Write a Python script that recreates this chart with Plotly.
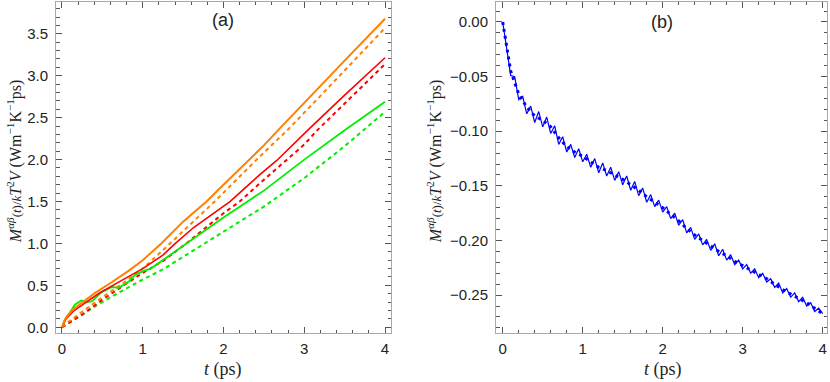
import plotly.graph_objects as go

# ---------------- Panel (a) data ----------------
t_or_s = [0, 0.04, 0.12, 0.24, 0.41, 0.62, 0.82, 1.0, 1.23, 1.5, 1.79, 2.0, 2.29, 2.5, 2.68, 3.0, 3.5, 4.0]
v_or_s = [0, 0.10, 0.20, 0.29, 0.41, 0.54, 0.67, 0.80, 1.00, 1.26, 1.50, 1.70, 1.97, 2.17, 2.355, 2.68, 3.18, 3.68]

t_or_d = [0, 0.1, 0.3, 0.5, 0.75, 1.0, 1.25, 1.34, 1.89, 2.41, 2.8, 3.2, 3.5, 4.0]
v_or_d = [0, 0.08, 0.22, 0.36, 0.52, 0.70, 0.92, 1.00, 1.50, 2.00, 2.36, 2.76, 3.06, 3.57]

t_rd_s = [0, 0.05, 0.15, 0.3, 0.45, 0.74, 1.0, 1.25, 1.38, 1.63, 2.08, 2.45, 2.66, 3.07, 3.5, 4.0]
v_rd_s = [0, 0.10, 0.20, 0.30, 0.40, 0.56, 0.70, 0.86, 0.98, 1.19, 1.50, 1.82, 1.99, 2.375, 2.77, 3.215]

t_rd_d = [0, 0.1, 0.25, 0.5, 0.75, 1.0, 1.25, 1.54, 2.0, 2.2, 2.5, 2.78, 3.0, 3.15, 3.5, 4.0]
v_rd_d = [0, 0.06, 0.15, 0.33, 0.49, 0.65, 0.79, 1.00, 1.36, 1.50, 1.76, 2.00, 2.18, 2.34, 2.67, 3.14]

t_gr_s = [0, 0.03, 0.06, 0.1, 0.16, 0.24, 0.3, 0.37, 0.49, 0.62, 0.7, 0.82, 0.9, 1.0, 1.1, 1.25, 1.54, 2.0, 2.5, 3.0, 3.5, 4.0]
v_gr_s = [0, 0.08, 0.13, 0.18, 0.27, 0.32, 0.30, 0.31, 0.42, 0.48, 0.47, 0.54, 0.62, 0.67, 0.70, 0.80, 1.00, 1.31, 1.63, 2.00, 2.35, 2.69]

t_gr_d = [0, 0.16, 0.41, 0.66, 1.0, 1.25, 1.5, 2.0, 2.5, 3.0, 3.5, 4.0]
v_gr_d = [0, 0.10, 0.25, 0.39, 0.57, 0.69, 0.84, 1.13, 1.44, 1.78, 2.16, 2.57]

# ---------------- Panel (b) data ----------------
t_b_s = [round(0.05 * i, 2) for i in range(81)]
v_b_s = [0.000, -0.024, -0.049, -0.050, -0.071, -0.068, -0.084, -0.077, -0.092, -0.082,
         -0.096, -0.087, -0.102, -0.095, -0.112, -0.105, -0.119, -0.112, -0.124, -0.116,
         -0.128, -0.121, -0.133, -0.125, -0.138, -0.129, -0.141, -0.133, -0.145, -0.137,
         -0.149, -0.141, -0.154, -0.146, -0.159, -0.152, -0.165, -0.158, -0.169, -0.163,
         -0.174, -0.169, -0.180, -0.175, -0.186, -0.181, -0.193, -0.188, -0.199, -0.194,
         -0.204, -0.199, -0.209, -0.203, -0.214, -0.208, -0.218, -0.213, -0.222, -0.218,
         -0.226, -0.222, -0.230, -0.226, -0.234, -0.230, -0.238, -0.235, -0.243, -0.239,
         -0.248, -0.244, -0.252, -0.248, -0.256, -0.252, -0.260, -0.257, -0.265, -0.262,
         -0.267]

t_b_d = [round(0.1 * i, 1) for i in range(41)]
v_b_d = [0.000, -0.045, -0.066, -0.078, -0.086, -0.090, -0.096, -0.106, -0.114, -0.119,
         -0.123, -0.128, -0.133, -0.136, -0.140, -0.144, -0.149, -0.154, -0.160, -0.165,
         -0.170, -0.176, -0.182, -0.189, -0.195, -0.200, -0.205, -0.210, -0.214, -0.219,
         -0.223, -0.227, -0.231, -0.235, -0.240, -0.245, -0.249, -0.253, -0.257, -0.262,
         -0.267]

x_ticks = [0, 1, 2, 3, 4]
ya_ticks = [0.0, 0.5, 1.0, 1.5, 2.0, 2.5, 3.0, 3.5]
yb_ticks = [0.00, -0.05, -0.10, -0.15, -0.20, -0.25]

ORANGE = "#ff8000"
RED = "#ff0000"
GREEN = "#00ee00"
BLUE = "#0000ff"
DASH = "4px,3.5px"

fig = go.Figure()

def add(t, v, color, dash, width, xa, ya):
    fig.add_trace(go.Scatter(x=t, y=v, mode="lines", xaxis=xa, yaxis=ya,
                             line=dict(color=color, width=width, dash=dash),
                             showlegend=False, hoverinfo="skip"))

add(t_gr_d, v_gr_d, GREEN, DASH, 2, "x", "y")
add(t_rd_d, v_rd_d, RED, DASH, 2, "x", "y")
add(t_or_d, v_or_d, ORANGE, DASH, 2, "x", "y")
add(t_gr_s, v_gr_s, GREEN, "solid", 1.8, "x", "y")
add(t_rd_s, v_rd_s, RED, "solid", 1.6, "x", "y")
add(t_or_s, v_or_s, ORANGE, "solid", 2, "x", "y")

add(t_b_d, v_b_d, BLUE, "3px,4px", 3, "x2", "y2")
add(t_b_s, v_b_s, BLUE, "solid", 1.2, "x2", "y2")

W, H = 830, 382
def px(x):
    return x / W
def py(y):
    return 1 - y / H

FRAME = "#a8a8a8"
TICKC = "#555555"
tickfont = dict(family="Liberation Sans, Arial, sans-serif", size=15, color="#222")

def xaxis(domain, anchor, rng):
    return dict(domain=domain, anchor=anchor, range=rng, showgrid=False, zeroline=False,
                showline=True, linecolor=FRAME, linewidth=1, mirror="allticks",
                ticks="inside", ticklen=6, tickcolor=TICKC, tickwidth=1,
                tickvals=x_ticks, ticktext=[str(v) for v in x_ticks], tickfont=tickfont,
                ticklabelstandoff=2,
                minor=dict(ticks="inside", ticklen=3.5, dtick=0.2, tick0=0, tickcolor=TICKC, showgrid=False))

def yaxis(domain, anchor, rng, vals, fmt, mdt):
    return dict(domain=domain, anchor=anchor, range=rng, showgrid=False, zeroline=False,
                showline=True, linecolor=FRAME, linewidth=1, mirror="allticks",
                ticks="inside", ticklen=6, tickcolor=TICKC, tickwidth=1,
                tickvals=vals, ticktext=[fmt.format(v).replace("-", "\u2212") for v in vals],
                tickfont=tickfont, ticklabelstandoff=4,
                minor=dict(ticks="inside", ticklen=3.5, dtick=mdt, tick0=0, tickcolor=TICKC, showgrid=False))

ydom = [py(335), py(2)]
fig.update_layout(
    width=W, height=H, margin=dict(l=0, r=0, t=0, b=0),
    paper_bgcolor="white", plot_bgcolor="white",
    xaxis=xaxis([px(56), px(391)], "y", [-0.074, 4.074]),
    yaxis=yaxis(ydom, "x", [-0.071, 3.88], ya_ticks, "{:.1f}", 0.1),
    xaxis2=xaxis([px(496), px(827)], "y2", [-0.084, 4.054]),
    yaxis2=yaxis(ydom, "x2", [-0.2849, 0.0183], yb_ticks, "{:.2f}", 0.01),
)

serif = "Liberation Serif, Times New Roman, serif"
ytitle = ("<i>M</i><sup><i>αβ</i></sup><span style='font-size:13px'>(<i>t</i>)/<i>k</i></span>"
          "<i>T</i><sup>2</sup><i>V</i> (Wm<sup>−1</sup>K<sup>−1</sup>ps)")
ann = [
    dict(text="(a)", x=px(223), y=py(20), font=dict(family="Liberation Sans, Arial", size=18, color="#222")),
    dict(text="(b)", x=px(662), y=py(22), font=dict(family="Liberation Sans, Arial", size=18, color="#222")),
    dict(text="<i>t</i> (ps)", x=px(223), y=py(371), font=dict(family=serif, size=18, color="#222")),
    dict(text="<i>t</i> (ps)", x=px(663), y=py(371), font=dict(family=serif, size=18, color="#222")),
    dict(text=ytitle, x=px(14), y=py(162), textangle=-90, font=dict(family=serif, size=16, color="#222")),
    dict(text=ytitle, x=px(434), y=py(162), textangle=-90, font=dict(family=serif, size=16, color="#222")),
]
for a in ann:
    a.update(xref="paper", yref="paper", showarrow=False, xanchor="center", yanchor="middle")
fig.update_layout(annotations=ann)

fig.write_html("out.html", config={"displayModeBar": False},
               post_script="document.body.style.margin='0';document.body.style.padding='0';document.body.style.overflow='hidden';")
